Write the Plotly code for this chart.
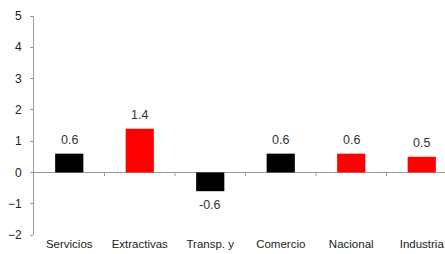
import plotly.graph_objects as go

categories = ["Servicios", "Extractivas", "Transp. y", "Comercio", "Nacional", "Industria"]
values = [0.6, 1.4, -0.6, 0.6, 0.6, 0.5]
labels = ["0.6", "1.4", "-0.6", "0.6", "0.6", "0.5"]
colors = ["#000000", "#FF0000", "#000000", "#000000", "#FF0000", "#FF0000"]

fig = go.Figure()
fig.add_trace(go.Bar(
    x=list(range(len(categories))), y=values,
    marker=dict(color=colors, line=dict(width=0)), width=0.4,
))

for i, (v, t) in enumerate(zip(values, labels)):
    fig.add_annotation(x=i, y=v, xref="x", yref="y", text=t, showarrow=False,
                       yanchor="bottom" if v >= 0 else "top", yshift=5 if v >= 0 else -5,
                       font=dict(family="Liberation Sans, Arial", size=12.5, color="#333333"))

# small tick marks on the zero line between categories
for i in range(len(categories) - 1):
    fig.add_shape(type="line", xref="x", yref="y", x0=i + 0.5, x1=i + 0.5, y0=0, y1=-0.12,
                  line=dict(color="#999999", width=1))

fig.update_layout(
    width=445, height=254,
    margin=dict(l=34, r=0, t=16, b=19),
    plot_bgcolor="white", paper_bgcolor="white",
    showlegend=False,
    font=dict(family="Liberation Sans, Arial", size=12, color="#333333"),
)
fig.update_xaxes(
    range=[-0.5, 5.33], tickmode="array", tickvals=list(range(len(categories))), ticktext=categories,
    showgrid=False, zeroline=False, showline=False, ticks="",
    tickfont=dict(size=11.5, color="#222222"),
)
fig.update_yaxes(
    range=[-2, 5], dtick=1, showgrid=False, zeroline=True, zerolinecolor="#999999", zerolinewidth=1,
    showline=True, linecolor="#999999", linewidth=1, ticks="outside", ticklen=3, tickcolor="#999999",
    tickfont=dict(size=12, color="#222222"), automargin=False, ticklabelstandoff=6,
)

fig.write_html("out.html", config={"displayModeBar": False},
               post_script="document.body.style.margin='0';document.body.style.overflow='hidden';")
